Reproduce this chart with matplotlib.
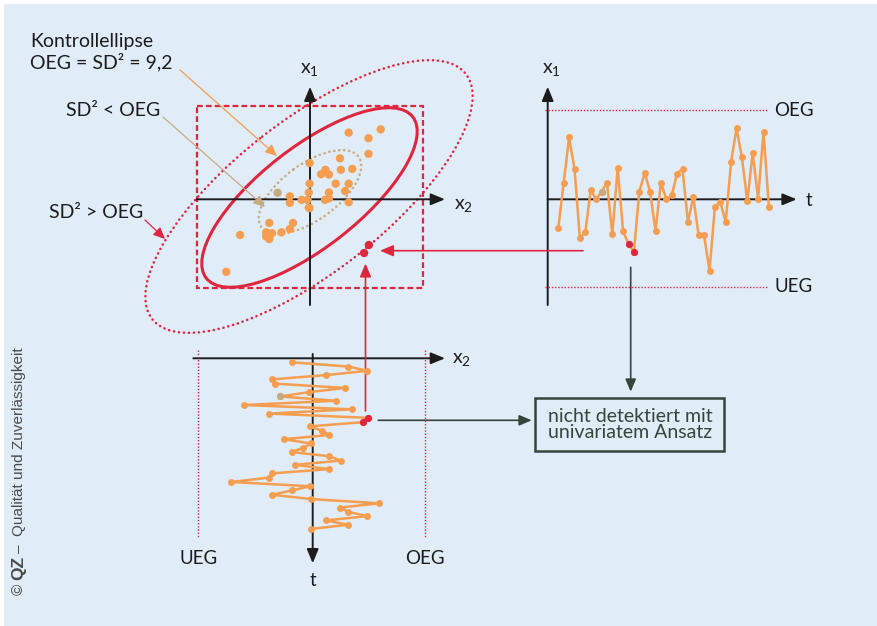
import matplotlib
matplotlib.use("Agg")
import matplotlib.pyplot as plt
from matplotlib.patches import Ellipse, Rectangle

# x1 and x2 readings at t = 1..40 (units: control limits at +-3)
x1_values = [-1.01, 0.53, 2.07, 1.00, -1.35, -1.15, 0.28, -0.02, 0.22, 0.53,
             -1.21, 1.03, -1.12, -1.55, -1.82, 0.23, 0.85, 0.23, -1.12, 0.53,
             -0.02, 0.10, 0.84, 1.00, -0.80, 0.03, -1.26, -1.26, -2.46, -0.28,
             -0.12, -0.80, 1.23, 2.37, 1.39, -0.10, 1.54, -0.02, 2.26, -0.30]
x2_values = [-0.51, 0.98, 1.48, 0.39, -1.03, -0.96, 0.89, -0.06, -0.82, 0.65,
             -1.77, 1.07, -1.11, 1.49, 1.37, -0.03, 0.28, 0.48, -0.72, -0.01,
             -0.21, -0.51, 0.48, 0.78, -0.43, 0.48, -1.04, -1.11, -2.12, -0.03,
             -0.51, -1.03, -0.01, 1.79, 0.76, 0.98, 1.48, 0.38, 0.98, -0.01]
t_values = list(range(1, len(x1_values) + 1))
tan_points = [8]           # point highlighted in tan
red_points = [13, 14]      # points outside the control ellipse
ueg, oeg = -3.0, 3.0

W, H = 877, 626
BG = "#e0ecf8"
ORANGE = "#f69d4f"
RED = "#e0263f"
TAN = "#c8aa80"
DARK = "#34463b"
BLACK = "#1c1c1c"
FONT = "Lato"

plt.rcParams["font.family"] = [FONT, "DejaVu Sans"]
plt.rcParams["mathtext.default"] = "regular"

fig = plt.figure(figsize=(W / 100, H / 100), dpi=100)
fig.patch.set_facecolor("white")

ax0 = fig.add_axes([0, 0, 1, 1])
ax0.set_xlim(0, W)
ax0.set_ylim(H, 0)
ax0.axis("off")
ax0.add_patch(Rectangle((4, 4), W, H, facecolor=BG, edgecolor="none", zorder=0))


def panel(ox, oy, sx, sy, xr, yr):
    # axes whose data origin sits at pixel (ox, oy), sx/sy px per unit
    px = lambda v: ox + v * sx
    py = lambda v: oy - v * sy
    xs = sorted(xr, key=px)
    ys = sorted(yr, key=lambda v: -py(v))
    left, right = px(xs[0]), px(xs[1])
    bottom, top = py(ys[0]), py(ys[1])
    ax = fig.add_axes([left / W, 1 - bottom / H, (right - left) / W, (bottom - top) / H])
    ax.set_xlim(xs)
    ax.set_ylim(ys)
    ax.axis("off")
    ax.patch.set_alpha(0)
    return ax


def arrow(x0, y0, x1, y1, color, lw, hl=8.5, hw=3.5):
    ax0.annotate("", xy=(x1, y1), xytext=(x0, y0),
                 arrowprops=dict(arrowstyle=f"-|>,head_length={hl},head_width={hw}",
                                 color=color, lw=lw, shrinkA=0, shrinkB=0,
                                 mutation_scale=1))


def label(x, y, s, size=13.5, **kw):
    ax0.text(x, y, s, fontsize=size, color=BLACK, va="center", **kw)


# ---- scatter plot with control ellipses ----
ax0.add_patch(Rectangle((196.7, 106), 226.6, 182.3, fill=False, edgecolor=RED,
                        lw=1.6, linestyle=(0, (2.6, 1.4)), zorder=2))
ax0.add_patch(Ellipse((309, 196.5), 2 * 199, 2 * 76, angle=-38, fill=False,
                      edgecolor=RED, lw=1.8, linestyle=(0, (0.1, 1.9)),
                      capstyle="round", zorder=2))
ax0.add_patch(Ellipse((309.5, 197.5), 2 * 131, 2 * 50, angle=-38, fill=False,
                      edgecolor=RED, lw=2.2, zorder=2))
ax0.add_patch(Ellipse((310, 192), 2 * 60, 2 * 28, angle=-36, fill=False,
                      edgecolor=TAN, lw=1.8, linestyle=(0, (0.1, 1.9)),
                      capstyle="round", zorder=2))
arrow(196.7, 199.3, 445, 199.3, BLACK, 1.4)
arrow(310, 305, 310, 86.7, BLACK, 1.4)
label(309, 70, "x$_1$", size=14, ha="center")
label(464, 205, "x$_2$", size=14, ha="center")

ax_sc = panel(310, 199.3, 39.5, 29.5, (-4, 4), (-4, 4.5))
sc_colors = [RED if i in red_points else TAN if i in tan_points else ORANGE
             for i in range(len(x1_values))]
ax_sc.scatter(x2_values, x1_values, s=36, c=sc_colors, linewidths=0, zorder=3)

# ---- x1 over time (right) ----
arrow(547.7, 305, 547.7, 86.7, BLACK, 1.4)
arrow(547.7, 199.3, 796.7, 199.3, BLACK, 1.4)
label(551, 70, "x$_1$", size=14, ha="center")
label(809, 200, "t", ha="center")
label(774, 110, "OEG")
label(775, 287, "UEG")

ax_r = panel(552.9, 198.3, 5.40, 29.5, (-1.5, 46), (-4, 4))
ax_r.hlines([oeg, ueg], -1.4, 39.6, colors=RED, lw=1.0, linestyles=(0, (1, 1.3)))
ax_r.plot(t_values, x1_values, color=ORANGE, lw=1.8, marker="o", ms=5.0,
          mec="none", zorder=3)
for i in tan_points + red_points:
    ax_r.plot(t_values[i], x1_values[i], "o", color=sc_colors[i], ms=5.2,
              mec="none", zorder=4)

# ---- x2 over time (bottom) ----
arrow(193.3, 358.3, 445, 358.3, BLACK, 1.4)
arrow(312.7, 354, 312.7, 563.3, BLACK, 1.4)
label(462, 360, "x$_2$", size=14, ha="center")
label(313, 581, "t", ha="center")
label(199, 559, "UEG", ha="center")
label(425, 559, "OEG", ha="center")

ax_b = panel(311.2, 358.0, 37.9, -4.274, (-3.5, 3.5), (-2, 48))
ax_b.vlines([ueg, oeg], -1.9, 41.8, colors=RED, lw=1.0, linestyles=(0, (1, 1.3)))
ax_b.plot(x2_values, t_values, color=ORANGE, lw=1.8, marker="o", ms=5.0,
          mec="none", zorder=3)
for i in tan_points + red_points:
    ax_b.plot(x2_values[i], t_values[i], "o", color=sc_colors[i], ms=5.2,
              mec="none", zorder=4)

# ---- connectors ----
arrow(583, 250.7, 380, 250.7, RED, 1.2, hl=8, hw=3.4)
arrow(365.5, 411, 365.5, 263.5, RED, 1.2, hl=8, hw=3.4)
arrow(378.3, 420.3, 531.7, 420.3, DARK, 1.2, hl=7.5, hw=3.2)
arrow(630.7, 267.3, 630.7, 391.7, DARK, 1.2, hl=7.5, hw=3.2)
ax0.add_patch(Rectangle((535, 397.7), 189.3, 53.3, fill=False, edgecolor=DARK,
                        lw=1.8, zorder=2))
ax0.text(630, 424.5, "nicht detektiert mit\nunivariatem Ansatz", fontsize=14,
         color=DARK, ha="center", va="center", linespacing=1.0)

# ---- annotations on the left ----
label(30, 41, "Kontrollellipse", size=14)
label(30, 62, "OEG = SD² = 9,2", size=14)
label(66, 110, "SD² < OEG", size=14)
label(49, 213, "SD² > OEG", size=14)
arrow(180, 70, 277, 156, ORANGE, 0.9, hl=7, hw=3.2)
arrow(163, 117, 265, 207, TAN, 0.9, hl=7, hw=3.2)
arrow(145, 220, 165, 239, RED, 0.9, hl=7, hw=3.2)

# ---- copyright ----
cp = dict(rotation=90, ha="center", color="#4a4a4a", fontsize=11,
          family="Liberation Sans")
ax0.text(19, 347, "Qualität und Zuverlässigkeit", va="top", **cp)
ax0.text(19, 549, "–", va="center", **cp)
ax0.text(19, 568, "QZ", va="center", fontweight="bold", fontsize=12.5,
         rotation=90, ha="center", color="#4a4a4a", family="Liberation Sans")
ax0.text(19, 589, "©", va="center", **cp)

fig.savefig("out.png", dpi=100, facecolor=fig.get_facecolor())
